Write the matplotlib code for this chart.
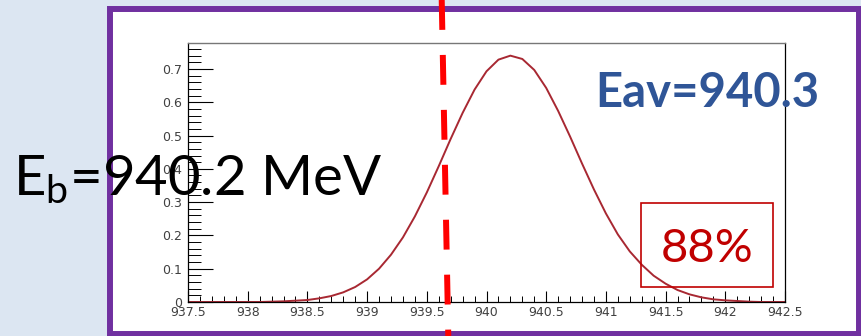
import matplotlib
matplotlib.use("Agg")
import matplotlib.pyplot as plt
import matplotlib.transforms as mtransforms
from matplotlib.patches import Rectangle

# beam energy spread (MeV) vs. relative density
energy = [937.5, 937.6, 937.7, 937.8, 937.9, 938.0, 938.1, 938.2, 938.3, 938.4,
          938.5, 938.6, 938.7, 938.8, 938.9, 939.0, 939.1, 939.2, 939.3, 939.4,
          939.5, 939.6, 939.7, 939.8, 939.9, 940.0, 940.1, 940.2, 940.3, 940.4,
          940.5, 940.6, 940.7, 940.8, 940.9, 941.0, 941.1, 941.2, 941.3, 941.4,
          941.5, 941.6, 941.7, 941.8, 941.9, 942.0, 942.1, 942.2, 942.3, 942.4,
          942.5]
density = [0.0, 0.0, 0.0, 0.0, 0.0, 0.0, 0.0, 0.001, 0.002, 0.004,
           0.006, 0.011, 0.018, 0.029, 0.045, 0.068, 0.100, 0.142, 0.194, 0.257,
           0.329, 0.408, 0.490, 0.568, 0.638, 0.693, 0.728, 0.740, 0.730, 0.697,
           0.643, 0.574, 0.497, 0.416, 0.338, 0.266, 0.203, 0.152, 0.112, 0.079,
           0.055, 0.036, 0.023, 0.014, 0.008, 0.005, 0.003, 0.001, 0.0, 0.0,
           0.0]

e_cut = 939.65          # acceptance cut
e_beam_label = "940.2"
e_avg_label = "940.3"
fraction_label = "88%"

x_ticks = [937.5, 938, 938.5, 939, 939.5, 940, 940.5, 941, 941.5, 942, 942.5]
x_ticklabels = ["937.5", "938", "938.5", "939", "939.5", "940", "940.5",
                "941", "941.5", "942", "942.5"]
y_ticks = [0, 0.1, 0.2, 0.3, 0.4, 0.5, 0.6, 0.7]
y_ticklabels = ["0", "0.1", "0.2", "0.3", "0.4", "0.5", "0.6", "0.7"]

W, H = 861, 336
fig = plt.figure(figsize=(W / 100, H / 100), dpi=100)
fig.patch.set_facecolor("#dce6f2")

def fx(px):
    return px / W

def fy(py):
    return 1 - py / H

# purple framed panel
panel = Rectangle((fx(110), fy(333.5)), fx(859.5 - 110), fy(9) - fy(333.5),
                  transform=fig.transFigure, facecolor="white", edgecolor="#7030a0",
                  linewidth=4.3, zorder=-1)
fig.patches.append(panel)

ax = fig.add_axes([fx(188), fy(302), fx(785 - 188), fy(43) - fy(302)])
ax.set_facecolor("white")
ax.plot(energy, density, color="#a82832", linewidth=1.4)

ax.set_xlim(937.5, 942.5)
ax.set_ylim(0, 0.778)
ax.set_xticks(x_ticks)
ax.set_xticklabels(x_ticklabels)
ax.set_xticks([937.5 + 0.1 * i for i in range(51)], minor=True)
ax.set_yticks(y_ticks)
ax.set_yticklabels(y_ticklabels)
ax.set_yticks([0.02 * i for i in range(39)], minor=True)

ax.tick_params(axis="x", which="major", direction="in", length=8, width=0.8,
               pad=3, labelsize=9, labelcolor="#404040")
ax.tick_params(axis="x", which="minor", direction="in", length=4, width=0.7)
ax.tick_params(axis="y", which="major", direction="in", length=18, width=0.8,
               pad=4, labelsize=9, labelcolor="#404040")
ax.tick_params(axis="y", which="minor", direction="in", length=9, width=0.7)
for s in ["left", "bottom", "right"]:
    ax.spines[s].set_color("black")
    ax.spines[s].set_linewidth(0.9)
ax.spines["top"].set_color("#777777")
ax.spines["top"].set_linewidth(1.0)

# dashed cut line running over the whole slide height
blend = mtransforms.blended_transform_factory(ax.transData, fig.transFigure)
ax.plot([e_cut - 0.025, e_cut + 0.03], [1.0, 0.0], transform=blend,
        color="#ff0000", linewidth=4.3, dashes=(5.0, 4.2), clip_on=False,
        zorder=5)

# annotations
fig.text(fx(595), fy(107), "Eav=" + e_avg_label, family="Lato",
         fontweight="bold", fontsize=34, color="#2f5597", va="baseline",
         ha="left")
fig.text(fx(13), fy(195), r"$\mathregular{E_b}$=" + e_beam_label + " MeV",
         family="Lato", fontsize=40.5, color="black", va="baseline", ha="left",
         zorder=10)
fig.text(fx(707), fy(262), fraction_label, family="Lato", fontsize=34,
         color="#c00000", va="baseline", ha="center")
box = Rectangle((fx(641), fy(287)), fx(773 - 641), fy(203) - fy(287),
                transform=fig.transFigure, facecolor="none",
                edgecolor="#c00000", linewidth=1.2, zorder=4)
fig.patches.append(box)

fig.savefig("out.png", dpi=100, facecolor=fig.get_facecolor())
